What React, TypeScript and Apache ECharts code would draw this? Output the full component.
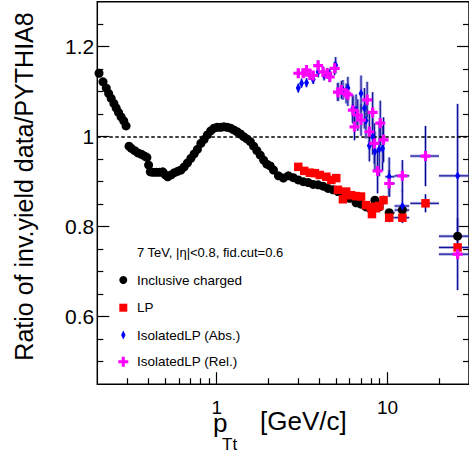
import React, { useEffect, useRef } from "react";
import * as echarts from "echarts";

// Inclusive charged: [pT, ratio]
const inclusive: [number, number][] = [
  [0.2047, 1.141], [0.216, 1.122], [0.2257, 1.108], [0.2331, 1.096], [0.2413, 1.085],
  [0.2501, 1.074], [0.2579, 1.064], [0.2663, 1.054], [0.2758, 1.044], [0.2859, 1.035],
  [0.2947, 1.024], [0.3068, 0.979], [0.3168, 0.974], [0.3311, 0.969], [0.346, 0.964],
  [0.3621, 0.961], [0.3785, 0.957], [0.3904, 0.954], [0.3994, 0.937], [0.4086, 0.922],
  [0.4228, 0.921], [0.4426, 0.921], [0.4625, 0.921], [0.4834, 0.922], [0.5012, 0.915],
  [0.5168, 0.911], [0.5408, 0.915], [0.5652, 0.92], [0.5905, 0.923], [0.618, 0.926],
  [0.6458, 0.933], [0.675, 0.942], [0.7064, 0.952], [0.7383, 0.962], [0.7716, 0.972],
  [0.8075, 0.985], [0.8439, 0.994], [0.8817, 1.004], [0.923, 1.013], [0.9645, 1.019],
  [1.008, 1.021], [1.055, 1.021], [1.102, 1.022], [1.152, 1.021], [1.206, 1.019],
  [1.26, 1.015], [1.317, 1.011], [1.378, 1.006], [1.44, 1.0], [1.505, 0.995],
  [1.575, 0.989], [1.646, 0.979], [1.72, 0.969], [1.8, 0.959], [1.882, 0.948],
  [1.967, 0.939], [2.058, 0.935], [2.15, 0.926], [2.299, 0.913], [2.458, 0.908],
  [2.628, 0.913], [2.81, 0.909], [3.004, 0.904], [3.212, 0.9], [3.434, 0.898],
  [3.671, 0.894], [3.925, 0.893], [4.196, 0.89], [4.486, 0.885], [4.796, 0.882],
  [5.128, 0.878], [5.608, 0.867], [5.995, 0.863], [6.546, 0.853], [7.0, 0.85],
  [7.483, 0.844], [8.0, 0.839], [8.44, 0.859], [8.95, 0.844], [10.23, 0.831],
  [12.22, 0.837], [25.73, 0.779],
];

// Leading particle: [pT, ratio, err]
const leadingParticle: [number, number, number][] = [
  [3.004, 0.933, 0], [3.254, 0.924, 0], [3.513, 0.92, 0], [3.755, 0.919, 0], [4.014, 0.915, 0],
  [4.385, 0.911, 0], [4.688, 0.904, 0], [5.012, 0.908, 0], [5.128, 0.882, 0], [5.483, 0.861, 0],
  [5.728, 0.878, 0], [6.124, 0.87, 0], [6.546, 0.868, 0], [7.0, 0.867, 0], [7.483, 0.848, 0],
  [8.0, 0.844, 0], [8.108, 0.828, 0.008], [8.553, 0.841, 0.008], [8.95, 0.846, 0.01], [9.48, 0.859, 0.01],
  [10.23, 0.82, 0.01], [12.22, 0.82, 0.012], [16.69, 0.852, 0.02], [25.73, 0.754, 0.01],
];

// Isolated LP (Abs.): [pT, ratio, err]
const isoAbs: [number, number, number][] = [
  [3.004, 1.108, 0.01], [3.14, 1.119, 0.01], [3.357, 1.12, 0.01], [3.671, 1.127, 0.01],
  [3.925, 1.144, 0.012], [4.253, 1.137, 0.012], [4.588, 1.139, 0.012], [4.972, 1.159, 0.018],
  [5.128, 1.1, 0.02], [5.483, 1.104, 0.022], [5.861, 1.108, 0.025], [6.27, 1.063, 0.03],
  [6.546, 1.059, 0.035], [7.0, 1.096, 0.04], [7.325, 1.063, 0.045], [7.483, 1.036, 0.04],
  [7.83, 0.98, 0.035], [8.185, 1.0, 0.04], [8.44, 0.967, 0.045], [8.95, 0.972, 0.06],
  [9.35, 0.974, 0.05], [10.23, 0.911, 0.043], [12.22, 0.846, 0.035], [25.73, 0.913, 0.16],
];

// Isolated LP (Rel.): [pT, ratio, err]
const isoRel: [number, number, number][] = [
  [3.004, 1.141, 0.01], [3.212, 1.141, 0.01], [3.357, 1.148, 0.01], [3.513, 1.137, 0.01],
  [3.671, 1.136, 0.01], [3.925, 1.158, 0.012], [4.196, 1.144, 0.012], [4.443, 1.141, 0.012],
  [4.588, 1.133, 0.012], [4.906, 1.152, 0.015], [5.128, 1.099, 0.02], [5.37, 1.104, 0.02],
  [5.728, 1.096, 0.022], [5.862, 1.093, 0.025], [6.27, 1.059, 0.03], [6.41, 1.022, 0.03],
  [6.697, 1.048, 0.035], [7.0, 1.037, 0.035], [7.6, 1.082, 0.04], [7.83, 1.011, 0.04],
  [8.185, 1.054, 0.045], [8.373, 0.985, 0.045], [8.75, 0.924, 0.05], [9.07, 1.03, 0.05],
  [9.48, 0.993, 0.05], [10.23, 0.896, 0.03], [12.22, 0.913, 0.035], [16.69, 0.957, 0.067],
  [25.73, 0.739, 0.08],
];

// high-pT bins: [centre, low edge, high edge]
const hiBins: [number, number, number][] = [
  [10.23, 9.7, 11.0], [12.22, 11.0, 13.4], [16.69, 13.6, 20], [25.73, 20, 33],
];

const yMajor = [0.6, 0.8, 1.0, 1.2];
const yMinor = [0.5, 0.55, 0.65, 0.7, 0.75, 0.85, 0.9, 0.95, 1.05, 1.1, 1.15, 1.25];
const xMajor = [1, 10];
const xMinor = [0.3, 0.4, 0.5, 0.6, 0.7, 0.8, 0.9, 2, 3, 4, 5, 6, 7, 8, 9, 20];

const FONT = "'Liberation Sans', Arial, Helvetica, sans-serif";
const X_MIN = 0.2, X_MAX = 30, Y_MIN = 0.45, Y_MAX = 1.3;

function errData(pts: [number, number, number][]) {
  return pts.map(([x, y, e]) => {
    const bin = hiBins.find((b) => Math.abs(b[0] - x) < 1e-6);
    return [x, y, e, bin ? bin[1] : x, bin ? bin[2] : x];
  });
}

const CROSS = "path://M3.4,0H6.6V3.4H10V6.6H6.6V10H3.4V6.6H0V3.4H3.4Z";

export default function App() {
  const ref = useRef<HTMLDivElement>(null);
  useEffect(() => {
    if (!ref.current) return;
    const chart = echarts.init(ref.current, undefined, { renderer: "svg" });

    const errSeries = (data: number[][], z: number) => ({
      type: "custom",
      xAxisIndex: 0,
      yAxisIndex: 0,
      z,
      silent: true,
      clip: false,
      data,
      renderItem: (_p: any, api: any) => {
        const x = api.value(0), y = api.value(1), e = api.value(2), xl = api.value(3), xh = api.value(4);
        const segs: number[][][] = [];
        if (e > 0) segs.push([api.coord([x, y - e]), api.coord([x, y + e])]);
        if (xh > xl) segs.push([api.coord([xl, y]), api.coord([xh, y])]);
        const children: any[] = [];
        segs.forEach(([a, b]) => {
          children.push({ type: "line", shape: { x1: a[0], y1: a[1], x2: b[0], y2: b[1] }, style: { stroke: "rgba(110,110,205,0.55)", lineWidth: 3 } });
          children.push({ type: "line", shape: { x1: a[0], y1: a[1], x2: b[0], y2: b[1] }, style: { stroke: "#000090", lineWidth: 1 } });
        });
        return { type: "group", children };
      },
    });

    const inclErr = errData(inclusive.filter((p) => p[0] > 10).map((p) => [p[0], p[1], 0] as [number, number, number]));

    const xBase = {
      type: "log", logBase: 10, min: X_MIN, max: X_MAX, gridIndex: 0, position: "bottom",
      axisLine: { show: false }, splitLine: { show: false }, minorTick: { show: false },
    };
    const yBase = {
      type: "value", min: Y_MIN, max: Y_MAX, gridIndex: 0,
      axisLine: { show: false }, splitLine: { show: false }, minorTick: { show: false },
    };
    const tick = (len: number, vals: number[]) => ({
      show: true, inside: true, length: len, customValues: vals, lineStyle: { color: "#000", width: 1.2 },
    });

    chart.setOption({
      animation: false,
      backgroundColor: "#fff",
      grid: { show: true, left: 97.3, top: 1.7, width: 375, height: 382.5, borderColor: "#000", borderWidth: 1.5, backgroundColor: "transparent" },
      xAxis: [
        { ...xBase, axisTick: tick(12, xMajor), axisLabel: { customValues: xMajor, fontSize: 19, color: "#000", fontFamily: FONT, margin: 14, formatter: (v: number) => String(Math.round(v)) } },
        { ...xBase, axisTick: tick(6, xMinor), axisLabel: { show: false } },
      ],
      yAxis: [
        { ...yBase, position: "left", axisTick: tick(12, yMajor), axisLabel: { customValues: yMajor, fontSize: 21, color: "#000", fontFamily: FONT, margin: 3, formatter: (v: number) => String(Math.round(v * 10) / 10) } },
        { ...yBase, position: "left", axisTick: tick(6, yMinor), axisLabel: { show: false } },
        { ...yBase, position: "right", axisTick: tick(12, yMajor), axisLabel: { show: false } },
        { ...yBase, position: "right", axisTick: tick(6, yMinor), axisLabel: { show: false } },
      ],
      series: [
        errSeries(inclErr, 1),
        errSeries(errData(leadingParticle), 1),
        errSeries(errData(isoAbs), 1),
        errSeries(errData(isoRel), 1),
        {
          type: "scatter", name: "Inclusive charged", data: inclusive, symbol: "circle", symbolSize: 9,
          itemStyle: { color: "#000", opacity: 1 }, z: 3,
          markLine: {
            silent: true, symbol: ["none", "none"], label: { show: false },
            lineStyle: { color: "#000", type: [3.5, 2.5], width: 1.5 },
            data: [{ yAxis: 1 }],
          },
        },
        { type: "scatter", name: "LP", data: leadingParticle.map((p) => [p[0], p[1]]), symbol: "rect", symbolSize: 8.5, itemStyle: { color: "#ff0000", opacity: 1 }, z: 4 },
        { type: "scatter", name: "IsolatedLP (Abs.)", data: isoAbs.map((p) => [p[0], p[1]]), symbol: "diamond", symbolSize: [5, 9], itemStyle: { color: "#0000ff", opacity: 1 }, z: 5 },
        { type: "scatter", name: "IsolatedLP (Rel.)", data: isoRel.map((p) => [p[0], p[1]]), symbol: CROSS, symbolSize: 10, itemStyle: { color: "#ff00ff", opacity: 1 }, z: 6 },
      ],
      graphic: [
        { type: "text", x: 24, y: 186.5, rotation: Math.PI / 2, style: { text: "Ratio of inv.yield data/PYTHIA8", fontSize: 25, fontFamily: FONT, fill: "#000", align: "center", verticalAlign: "middle" } },
        { type: "text", x: 213, y: 423, style: { text: "p", fontSize: 26, fontFamily: FONT, fill: "#000", align: "left", verticalAlign: "middle" } },
        { type: "text", x: 222, y: 444, style: { text: "Tt", fontSize: 17, fontFamily: FONT, fill: "#000", align: "left", verticalAlign: "middle" } },
        { type: "text", x: 260, y: 421, style: { text: "[GeV/c]", fontSize: 26, fontFamily: FONT, fill: "#000", align: "left", verticalAlign: "middle" } },
        { type: "text", x: 137, y: 252, style: { text: "7 TeV, |η|<0.8, fid.cut=0.6", fontSize: 13, fontFamily: FONT, fill: "#000", align: "left", verticalAlign: "middle" } },
        { type: "circle", shape: { cx: 123.3, cy: 280, r: 4 }, style: { fill: "#000" } },
        { type: "text", x: 137, y: 280, style: { text: "Inclusive charged", fontSize: 13.5, fontFamily: FONT, fill: "#000", align: "left", verticalAlign: "middle" } },
        { type: "rect", shape: { x: 119.3, y: 303.7, width: 8, height: 8 }, style: { fill: "#ff0000" } },
        { type: "text", x: 137, y: 307.7, style: { text: "LP", fontSize: 13.5, fontFamily: FONT, fill: "#000", align: "left", verticalAlign: "middle" } },
        { type: "polygon", shape: { points: [[123.3, 330.5], [125.5, 335], [123.3, 339.5], [121.1, 335]] }, style: { fill: "#0000ff" } },
        { type: "text", x: 137, y: 335, style: { text: "IsolatedLP (Abs.)", fontSize: 13.5, fontFamily: FONT, fill: "#000", align: "left", verticalAlign: "middle" } },
        { type: "polygon", shape: { points: [[121.8, 356.7], [124.8, 356.7], [124.8, 360.2], [128.3, 360.2], [128.3, 363.2], [124.8, 363.2], [124.8, 366.7], [121.8, 366.7], [121.8, 363.2], [118.3, 363.2], [118.3, 360.2], [121.8, 360.2]] }, style: { fill: "#ff00ff" } },
        { type: "text", x: 137, y: 361.7, style: { text: "IsolatedLP (Rel.)", fontSize: 13.5, fontFamily: FONT, fill: "#000", align: "left", verticalAlign: "middle" } },
      ],
    });
    return () => chart.dispose();
  }, []);
  return <div ref={ref} style={{ position: "fixed", left: 0, top: 0, width: 469, height: 455, overflow: "hidden" }} />;
}
